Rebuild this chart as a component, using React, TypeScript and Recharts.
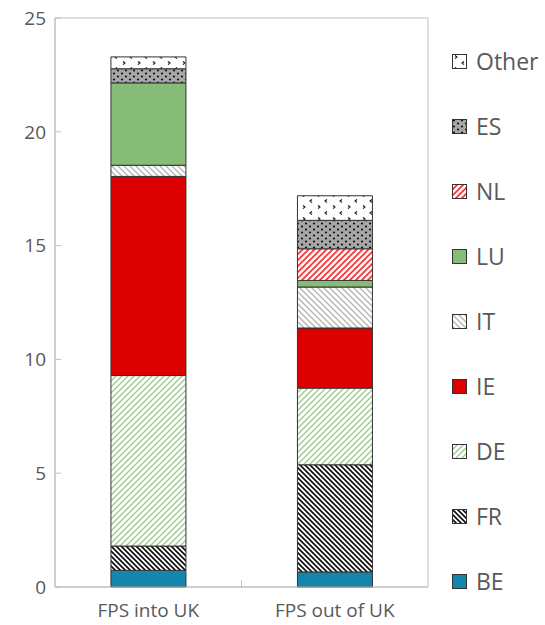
import React from 'react';
import { BarChart, Bar, XAxis, YAxis, ReferenceArea, Legend } from 'recharts';

const categories = ['FPS into UK', 'FPS out of UK'];
const seriesKeys = ['BE', 'FR', 'DE', 'IE', 'IT', 'LU', 'NL', 'ES', 'Other'];
const BE = [0.73, 0.66];
const FR = [1.07, 4.71];
const DE = [7.49, 3.37];
const IE = [8.75, 2.64];
const IT = [0.49, 1.8];
const LU = [3.62, 0.29];
const NL = [0, 1.39];
const ES = [0.62, 1.25];
const Other = [0.52, 1.08];
const yTicks = [0, 5, 10, 15, 20, 25];

const seriesValues: Record<string, number[]> = { BE, FR, DE, IE, IT, LU, NL, ES, Other };

const data = categories.map((name, i) => {
  const row: Record<string, any> = { name };
  seriesKeys.forEach((k) => {
    row[k] = seriesValues[k][i];
  });
  return row;
});

const fills: Record<string, string> = {
  BE: '#1386AD',
  FR: 'url(#pFR)',
  DE: 'url(#pDE)',
  IE: '#DD0000',
  IT: 'url(#pIT)',
  LU: '#86BC78',
  NL: 'url(#pNL)',
  ES: 'url(#pES)',
  Other: 'url(#pOther)',
};

const TEXT = '#595959';
const AXIS = '#BFBFBF';
const FONT = '"Open Sans", "Noto Sans", sans-serif';

const XTick = (props: any) => {
  const { x, y, payload, index } = props;
  const off = payload && payload.offset ? payload.offset : 93.3;
  return (
    <g>
      {index === 0 && (
        <line x1={x + off} x2={x + off} y1={y - 17} y2={y - 24} stroke={AXIS} strokeWidth={1} />
      )}
      <text x={x} y={y} dy="0.71em" textAnchor="middle" fill={TEXT} fontSize={19} fontFamily={FONT}>
        {payload.value}
      </text>
    </g>
  );
};

const LegendContent = () => {
  const items = [...seriesKeys].reverse();
  return (
    <div style={{ fontFamily: FONT }}>
      {items.map((k) => (
        <div key={k} style={{ height: 64.9, display: 'flex', alignItems: 'center' }}>
          <svg width={15} height={15} style={{ marginRight: 9, flex: 'none' }}>
            <rect x={0.5} y={0.5} width={14} height={14} fill={fills[k]} stroke="#333" strokeWidth={1} />
          </svg>
          <span style={{ fontSize: 23, color: TEXT, lineHeight: 1 }}>{k}</span>
        </div>
      ))}
    </div>
  );
};

export default function App() {
  return (
    <div style={{ position: 'absolute', left: 0, top: 0, background: '#fff' }}>
      <BarChart
        width={545}
        height={625}
        data={data}
        margin={{ top: 18, right: 117, bottom: 0, left: 0 }}
        barCategoryGap="30%"
        style={{ fontFamily: FONT }}
      >
        <defs>
          <pattern id="pFR" patternUnits="userSpaceOnUse" width={5} height={5}>
            <rect width={5} height={5} fill="#fff" />
            <path d="M0,0 L5,5 M-1,4 L1,6 M4,-1 L6,1" stroke="#111" strokeWidth={1.7} />
          </pattern>
          <pattern id="pDE" patternUnits="userSpaceOnUse" width={6} height={6}>
            <rect width={6} height={6} fill="#fff" />
            <path d="M0,6 L6,0 M-1,1 L1,-1 M5,7 L7,5" stroke="#9ACD8C" strokeWidth={1.4} />
          </pattern>
          <pattern id="pIT" patternUnits="userSpaceOnUse" width={6} height={6}>
            <rect width={6} height={6} fill="#fff" />
            <path d="M0,0 L6,6 M-1,5 L1,7 M5,-1 L7,1" stroke="#B5B5B5" strokeWidth={1.4} />
          </pattern>
          <pattern id="pNL" patternUnits="userSpaceOnUse" width={6} height={6}>
            <rect width={6} height={6} fill="#fff" />
            <path d="M0,6 L6,0 M-1,1 L1,-1 M5,7 L7,5" stroke="#FF2A2A" strokeWidth={1.6} />
          </pattern>
          <pattern id="pES" patternUnits="userSpaceOnUse" width={8} height={6}>
            <rect width={8} height={6} fill="#A6A6A6" />
            <circle cx={2} cy={1.5} r={1.1} fill="#111" />
            <circle cx={6} cy={4.5} r={1.1} fill="#111" />
          </pattern>
          <pattern id="pOther" patternUnits="userSpaceOnUse" width={15} height={12}>
            <rect width={15} height={12} fill="#fff" />
            <path d="M3,1.5 L5,3 L3,4.5" stroke="#111" strokeWidth={1.1} fill="none" />
            <path d="M12,7.5 L10,9 L12,10.5" stroke="#111" strokeWidth={1.1} fill="none" />
          </pattern>
        </defs>
        <XAxis
          dataKey="name"
          height={38}
          axisLine={{ stroke: AXIS }}
          tickLine={false}
          tickSize={0}
          tickMargin={17}
          tick={<XTick />}
          interval={0}
        />
        <YAxis
          width={55}
          domain={[0, 25]}
          ticks={yTicks}
          axisLine={{ stroke: AXIS }}
          tickLine={{ stroke: AXIS }}
          tickSize={-6}
          tickMargin={15}
          tick={{ fill: TEXT, fontSize: 19, fontFamily: FONT }}
          interval={0}
        />
        <ReferenceArea y1={0} y2={25} fill="none" stroke={AXIS} strokeWidth={1} ifOverflow="extendDomain" />
        {seriesKeys.map((k) => (
          <Bar
            key={k}
            dataKey={k}
            stackId="a"
            fill={fills[k]}
            stroke="#333"
            strokeWidth={1}
            isAnimationActive={false}
          />
        ))}
        <Legend
          layout="vertical"
          align="center"
          verticalAlign="middle"
          wrapperStyle={{ left: 452, top: 29.5, width: 93 }}
          content={<LegendContent />}
        />
      </BarChart>
    </div>
  );
}
